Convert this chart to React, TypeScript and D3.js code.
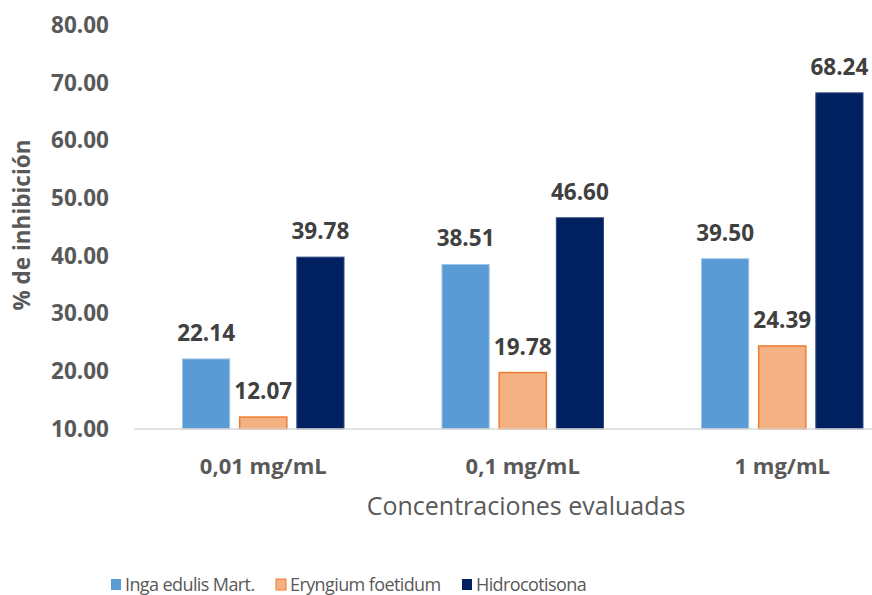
import React from "react";
import * as d3 from "d3";

const categories = ["0,01 mg/mL", "0,1 mg/mL", "1 mg/mL"];
const seriesNames = ["Inga edulis Mart.", "Eryngium foetidum", "Hidrocotisona"];
const ingaValues = [22.14, 38.51, 39.5];
const eryngiumValues = [12.07, 19.78, 24.39];
const hidroValues = [39.78, 46.6, 68.24];
const yTicks = [10, 20, 30, 40, 50, 60, 70, 80];

const W = 872;
const H = 595;
const FONT = "'Open Sans', sans-serif";

const fills = ["#5B9BD5", "#F4B183", "#002060"];
const strokes = ["#9DC3E6", "#ED7D31", "#2F4A80"];

export default function App() {
  const series = [ingaValues, eryngiumValues, hidroValues];
  const y = d3.scaleLinear().domain([10, 80]).range([429, 25]);
  const x0 = d3.scaleBand<string>().domain(categories).range([133.5, 912]).padding(0);
  const x1 = d3
    .scaleBand<string>()
    .domain(seriesNames)
    .range([49, x0.bandwidth() - 49])
    .paddingInner(0.175);

  return (
    <svg
      width={W}
      height={H}
      style={{ position: "absolute", left: 0, top: 0, background: "#fff" }}
      fontFamily={FONT}
    >
      {/* y tick labels */}
      {yTicks.map((t) => (
        <text
          key={t}
          x={109}
          y={y(t)}
          dy="0.35em"
          textAnchor="end"
          fontSize={22.5}
          fontWeight={700}
          fill="#595959"
        >
          {d3.format(".2f")(t)}
        </text>
      ))}

      {/* y axis title */}
      <text
        transform={`translate(22,${225}) rotate(-90)`}
        textAnchor="middle"
        dy="0.35em"
        fontSize={22.5}
        fontWeight={700}
        fill="#595959"
      >
        % de inhibición
      </text>

      {/* bars */}
      {categories.map((c, ci) => (
        <g key={c} transform={`translate(${x0(c)},0)`}>
          {seriesNames.map((s, si) => {
            const v = series[si][ci];
            const bx = x1(s)!;
            const bw = x1.bandwidth();
            return (
              <g key={s}>
                <rect
                  x={bx}
                  y={y(v)}
                  width={bw}
                  height={y(10) - y(v)}
                  fill={fills[si]}
                  stroke={strokes[si]}
                  strokeWidth={si === 1 ? 1.5 : 1}
                />
                <text
                  x={bx + bw / 2}
                  y={y(v) - 18}
                  textAnchor="middle"
                  fontSize={22.5}
                  fontWeight={700}
                  fill="#404040"
                >
                  {d3.format(".2f")(v)}
                </text>
              </g>
            );
          })}
        </g>
      ))}

      {/* baseline */}
      <line x1={134} x2={W} y1={y(10)} y2={y(10)} stroke="#D9D9D9" strokeWidth={1.5} />

      {/* category labels */}
      {categories.map((c) => (
        <text
          key={c}
          x={x0(c)! + x0.bandwidth() / 2}
          y={466}
          textAnchor="middle"
          dy="0.35em"
          fontSize={22}
          fontWeight={700}
          fill="#595959"
        >
          {c}
        </text>
      ))}

      {/* x axis title */}
      <text x={526} y={506} textAnchor="middle" dy="0.35em" fontSize={25} fill="#595959">
        Concentraciones evaluadas
      </text>

      {/* legend */}
      {seriesNames.map((s, si) => {
        const lx = [111, 276, 462][si];
        return (
          <g key={s} transform={`translate(${lx},579)`}>
            <rect
              x={0}
              y={0}
              width={10}
              height={11}
              fill={fills[si]}
              stroke={si === 1 ? strokes[si] : "none"}
              strokeWidth={1}
            />
            <text
              x={14}
              y={5.5}
              dy="0.35em"
              fontSize={18}
              letterSpacing={-0.6}
              fill="#595959"
            >
              {s}
            </text>
          </g>
        );
      })}
    </svg>
  );
}
